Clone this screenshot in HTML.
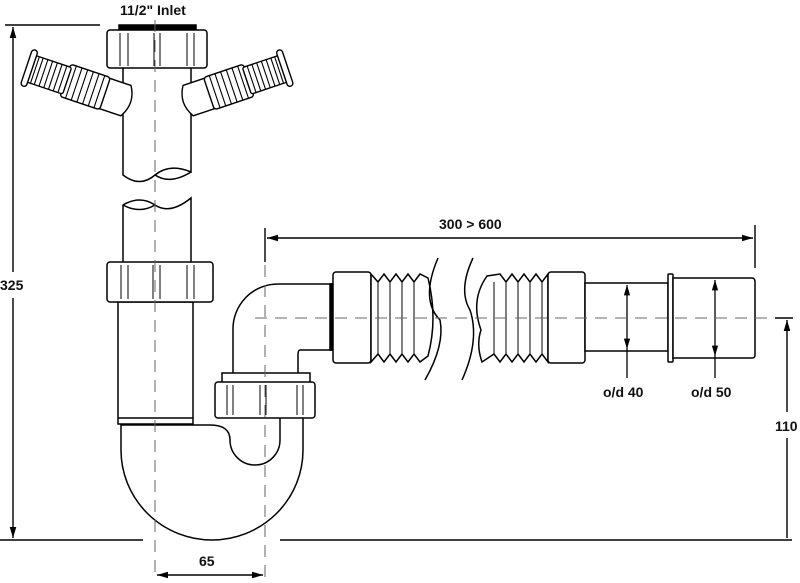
<!DOCTYPE html>
<html><head><meta charset="utf-8"><style>
html,body{margin:0;padding:0;background:#fff}
svg{display:block}
text{font-family:"Liberation Sans",Arial,sans-serif;font-weight:bold;font-size:14px;fill:#111}
</style></head><body>
<svg width="800" height="583" viewBox="0 0 800 583" xmlns="http://www.w3.org/2000/svg">
<defs>
<marker id="ar" viewBox="0 0 10 10" refX="10" refY="5" markerWidth="8" markerHeight="8" orient="auto-start-reverse"><path d="M0,2 L10,5 L0,8 z" fill="#000"/></marker>
<g id="hose" fill="#fff" stroke="#000" stroke-width="1.4">
<path d="M-2,-16 L22,-16 L22,16 L-2,16 Q-12,0 -2,-16 z"/>
<rect x="20" y="-17" width="42" height="34" rx="3"/>
<path d="M26,-17v34M32,-17v34M38,-17v34M44,-17v34M50,-17v34M56,-17v34" stroke-width="1.1"/>
<rect x="60" y="-14" width="38" height="28" rx="2"/>
<path d="M65,-14v28M70,-14v28M75,-14v28M80,-14v28M85,-14v28M90,-14v28M94,-14v28" stroke-width="1.1"/>
<rect x="97" y="-19" width="6" height="38" rx="3"/>
</g>
</defs>
<g fill="none" stroke="#000" stroke-width="1.4">
<line x1="5" y1="25" x2="100" y2="25"/>
<line x1="13" y1="27" x2="13" y2="272" marker-start="url(#ar)"/>
<line x1="13" y1="298" x2="13" y2="538" marker-end="url(#ar)"/>
<line x1="0" y1="540" x2="143" y2="540"/>
<line x1="280" y1="540" x2="792" y2="540"/>
<line x1="775" y1="318" x2="793" y2="318"/>
<line x1="787" y1="320" x2="787" y2="412" marker-start="url(#ar)"/>
<line x1="787" y1="438" x2="787" y2="538"/>
<line x1="265" y1="228" x2="265" y2="262"/>
<line x1="755" y1="225" x2="755" y2="268"/>
<line x1="267" y1="238" x2="753" y2="238" marker-start="url(#ar)" marker-end="url(#ar)"/>
<line x1="157" y1="575" x2="263" y2="575" marker-start="url(#ar)" marker-end="url(#ar)"/>
</g>
<g fill="#fff" stroke="#000" stroke-width="1.5">
<path d="M123,68 V175 Q140,188 155,175 Q170,163 191,172 V68"/>
<path d="M155,175 Q170,185 191,172" fill="none"/>
<rect x="119" y="25" width="77" height="6" fill="#000"/>
<rect x="107" y="30" width="100" height="38" rx="3"/>
<path d="M120,33v33M128,33v33M154,33v33M160,33v33M187,33v33M194,33v33" stroke-width="1"/>
</g>
<use href="#hose" transform="translate(124,100) rotate(198.6)"/>
<use href="#hose" transform="translate(190,100) rotate(-18.6)"/>
<g fill="#fff" stroke="#000" stroke-width="1.5">
<path d="M123,262 V205 Q140,195 155,205 Q170,215 191,198 V262"/>
<path d="M123,205 Q140,214 155,205" fill="none"/>
<path d="M121,425 V450 A91,90 0 0 0 303,450 V415 H280 V440 A20,20 0 0 1 230,440 Q230,425 210,425 Z"/>
<rect x="118" y="302" width="75" height="122"/>
<line x1="118" y1="418" x2="193" y2="418"/>
<rect x="107" y="262" width="106" height="40" rx="3"/>
<path d="M121,265v34M128,265v34M153,265v34M160,265v34M187,265v34M194,265v34" stroke-width="1"/>
<path d="M233,375 V330 A45,45 0 0 1 278,284 H332 V350 H300 Q298,350 298,355 V375 Z"/>
<rect x="222" y="373" width="88" height="10"/>
<rect x="215" y="382" width="100" height="36" rx="3"/>
<path d="M227,385v30M233,385v30M260,385v30M266,385v30M297,385v30M303,385v30" stroke-width="1"/>
<rect x="330" y="284" width="3" height="66" fill="#000"/>
<rect x="333" y="272" width="38" height="91" rx="3"/>
<path d="M371,274 L378,282 L384,274 L390,282 L396,274 L402,282 L408,274 L414,282 L420,274 L428,278 Q438,318 428,356 L420,362 L414,354 L408,362 L402,354 L396,362 L390,354 L384,362 L378,354 L371,362 Z"/>
<path d="M378,282v72M390,282v72M402,282v72M414,282v72" stroke-width="1"/>
<path d="M438,258 Q420,300 440,320 Q445,345 425,380" fill="none"/>
<path d="M473,258 Q458,290 470,310 Q480,340 462,380" fill="none"/>
<path d="M548,274 L542,282 L536,274 L530,282 L524,274 L518,282 L512,274 L506,282 L500,274 L487,276 Q470,300 481,330 Q476,345 482,362 L494,354 L500,362 L506,354 L512,362 L518,354 L524,362 L530,354 L536,362 L542,354 L548,362 Z"/>
<path d="M494,282v72M506,282v72M518,282v72M530,282v72M542,282v72" stroke-width="1"/>
<rect x="548" y="272" width="37" height="91" rx="3"/>
<rect x="585" y="283" width="83" height="68"/>
<rect x="668" y="274" width="5" height="88" rx="1"/>
<path d="M673,278 H752 Q755,278 755,282 V355 Q755,358 752,358 H673 Z"/>
</g>
<g fill="none" stroke="#000" stroke-width="1.3">
<line x1="627" y1="285" x2="627" y2="349" marker-start="url(#ar)" marker-end="url(#ar)"/>
<line x1="627" y1="349" x2="627" y2="378"/>
<line x1="715" y1="280" x2="715" y2="356" marker-start="url(#ar)" marker-end="url(#ar)"/>
<line x1="715" y1="356" x2="715" y2="378"/>
</g>
<g stroke="#666" stroke-width="1" stroke-dasharray="12,8" fill="none">
<line x1="155" y1="20" x2="155" y2="580"/>
<line x1="265" y1="265" x2="265" y2="580"/>
<line x1="255" y1="318" x2="775" y2="318"/>
</g>
<text x="120" y="15">11/2" Inlet</text>
<text x="0" y="290">325</text>
<text x="775" y="431">110</text>
<text x="439" y="229">300 &gt; 600</text>
<text x="199" y="566">65</text>
<text x="603" y="397">o/d 40</text>
<text x="691" y="397">o/d 50</text>
</svg>
</body></html>
